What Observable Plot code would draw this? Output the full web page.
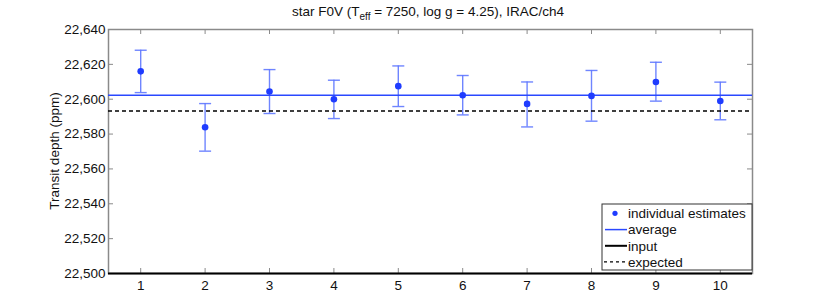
<!DOCTYPE html>
<html>
<head>
<meta charset="utf-8">
<script src="https://cdn.jsdelivr.net/npm/d3@7"></script>
<script src="https://cdn.jsdelivr.net/npm/@observablehq/plot@0.6"></script>
<style>
  html, body { margin: 0; padding: 0; background: #fff; }
  #chart { position: relative; width: 830px; height: 308px; }
</style>
</head>
<body>
<div id="chart"></div>
<script>
// ---- data ----
const runs = [1, 2, 3, 4, 5, 6, 7, 8, 9, 10];
const estimates = [22616.0, 22583.9, 22604.4, 22600.0, 22607.5, 22602.3, 22597.3, 22601.9, 22609.9, 22599.0];
const upper = [22628.1, 22597.5, 22617.0, 22610.9, 22619.1, 22613.6, 22609.9, 22616.5, 22621.2, 22609.8];
const lower = [22603.8, 22570.2, 22591.8, 22588.9, 22595.8, 22591.0, 22584.1, 22587.4, 22598.9, 22588.2];
const averageDepth = [22602.3];
const inputDepth = [22500];
const expectedDepth = [22593.3];
const xTicks = [1, 2, 3, 4, 5, 6, 7, 8, 9, 10];
const yTicks = [22500, 22520, 22540, 22560, 22580, 22600, 22620, 22640];
const titleParts = ["star F0V (T", "eff", " = 7250, log g = 4.25), IRAC/ch4"];
const yLabel = "Transit depth (ppm)";
const legendLabels = ["individual estimates", "average", "input", "expected"];

const table = runs.map((r, i) => ({run: r, est: estimates[i], hi: upper[i], lo: lower[i]}));

const W = 830, H = 308, mL = 108, mR = 78, mT = 29, mB = 35;
const pw = W - mL - mR, ph = H - mT - mB;
const font = "'Liberation Sans', Arial, Helvetica, sans-serif";
const fs = "13.5px";

const capSymbol = {
  draw(ctx, size) {
    const r = Math.sqrt(size / Math.PI);
    ctx.moveTo(-r, 0);
    ctx.lineTo(r, 0);
  }
};

const blue = "#1f3cff";
const barBlue = "#5f78ff";
const gray = "#8a8a8a";

const plot = Plot.plot({
  width: W, height: H,
  marginLeft: mL, marginRight: mR, marginTop: mT, marginBottom: mB,
  style: {fontFamily: font, fontSize: fs, color: "#111", background: "#fff"},
  x: {domain: [0.5, 10.5]},
  y: {domain: [22500, 22640]},
  marks: [
    // inward ticks on all four sides
    Plot.tickY(yTicks, {y: d => d, insetRight: pw - 5, stroke: gray, strokeWidth: 1}),
    Plot.tickY(yTicks, {y: d => d, insetLeft: pw - 5, stroke: gray, strokeWidth: 1}),
    Plot.tickX(xTicks, {x: d => d, insetTop: ph - 5, stroke: gray, strokeWidth: 1}),
    Plot.tickX(xTicks, {x: d => d, insetBottom: ph - 5, stroke: gray, strokeWidth: 1}),
    Plot.frame({stroke: gray, strokeWidth: 1.5}),
    // error bars
    Plot.ruleX(table, {x: "run", y1: "lo", y2: "hi", stroke: barBlue, strokeWidth: 1.4, strokeOpacity: 0.9}),
    Plot.dot(table, {x: "run", y: "hi", symbol: capSymbol, r: 6, stroke: barBlue, strokeWidth: 1.4, strokeOpacity: 0.9, fill: "none"}),
    Plot.dot(table, {x: "run", y: "lo", symbol: capSymbol, r: 6, stroke: barBlue, strokeWidth: 1.4, strokeOpacity: 0.9, fill: "none"}),
    // reference lines
    Plot.ruleY(averageDepth, {y: d => d, stroke: "#2a48ff", strokeWidth: 1.6}),
    Plot.ruleY(inputDepth, {y: d => d, stroke: "#000", strokeWidth: 1.8}),
    Plot.ruleY(expectedDepth, {y: d => d, stroke: "#000", strokeWidth: 1.5, strokeDasharray: "4,3"}),
    // estimates
    Plot.dot(table, {x: "run", y: "est", r: 3.3, fill: blue, stroke: "none"}),
    // axes
    Plot.axisX({ticks: xTicks, tickSize: 0, tickPadding: 7, label: null, tickFormat: d => String(d)}),
    Plot.axisY({ticks: yTicks, tickSize: 0, tickPadding: 3, tickFormat: d3.format(","), label: null})
  ]
});

document.getElementById("chart").appendChild(plot);

const svg = d3.select(plot);
// y axis label
svg.append("text")
  .attr("transform", `translate(54,${mT + ph / 2}) rotate(-90)`)
  .attr("text-anchor", "middle").attr("dy", "0.35em")
  .attr("font-family", font).attr("font-size", fs).attr("fill", "#111")
  .text(yLabel);

// title with subscript
const title = svg.append("text")
  .attr("x", mL + pw / 2 - 2).attr("y", 16)
  .attr("text-anchor", "middle")
  .attr("font-family", font).attr("font-size", fs).attr("fill", "#111");
title.append("tspan").text(titleParts[0]);
title.append("tspan").attr("dy", 4).attr("font-size", "10px").text(titleParts[1]);
title.append("tspan").attr("dy", -4).text(titleParts[2]);

// legend
const lg = svg.append("g").attr("font-family", font).attr("font-size", fs).attr("text-anchor", "start");
const lx = 602, ly = 204, lw = 150, lh = 66;
lg.append("rect").attr("x", lx).attr("y", ly).attr("width", lw).attr("height", lh)
  .attr("fill", "#fff").attr("stroke", "#333").attr("stroke-width", 1);
const rowY = [213.3, 229.6, 245.8, 261.8];
legendLabels.forEach((lab, i) => {
  const cy = rowY[i];
  if (i === 0) {
    lg.append("circle").attr("cx", 615).attr("cy", cy).attr("r", 2.6).attr("fill", blue);
  } else if (i === 1) {
    lg.append("line").attr("x1", 605).attr("x2", 627).attr("y1", cy).attr("y2", cy)
      .attr("stroke", "#2a48ff").attr("stroke-width", 1.5);
  } else if (i === 2) {
    lg.append("line").attr("x1", 605).attr("x2", 627).attr("y1", cy).attr("y2", cy)
      .attr("stroke", "#000").attr("stroke-width", 2);
  } else {
    lg.append("line").attr("x1", 604).attr("x2", 627).attr("y1", cy).attr("y2", cy)
      .attr("stroke", "#000").attr("stroke-width", 1.3).attr("stroke-dasharray", "3,3");
  }
  lg.append("text").attr("x", 628).attr("y", cy).attr("dy", "0.35em")
    .attr("text-anchor", "start").attr("fill", "#111").text(lab);
});
</script>
</body>
</html>
